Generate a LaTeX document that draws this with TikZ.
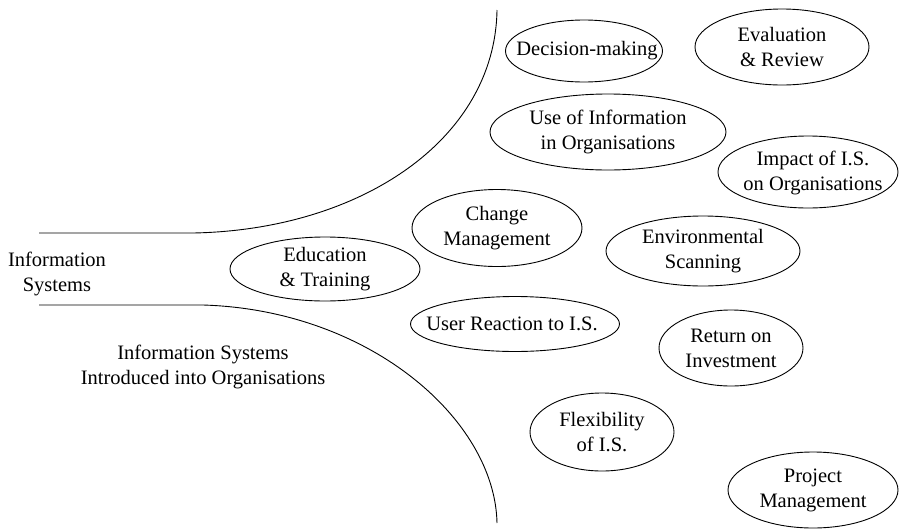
\documentclass[tikz,border=0pt]{standalone}
\usepackage{fontspec}
\setmainfont{Liberation Serif}
\usetikzlibrary{shapes.geometric}
\begin{document}
\begin{tikzpicture}[x=1pt,y=-1pt,
  oval/.style={draw, ellipse, line width=0.9pt, inner sep=0pt},
  lbl/.style={align=center, font=\fontsize{20.5}{25}\selectfont, inner sep=0pt},
  bound/.style={line width=0.9pt}]
\useasboundingbox (0,0) rectangle (900,528);
% boundary curves
\coordinate (u0) at (39,233);
\coordinate (u1) at (193,233);
\coordinate (u2) at (497,10);
\coordinate (l0) at (39,305);
\coordinate (l1) at (203,305);
\coordinate (l2) at (497,523);
\draw[bound] (u0) -- (u1) .. controls (360,230) and (495,140) .. (u2);
\draw[bound] (l0) -- (l1) .. controls (370,310) and (495,420) .. (l2);
% free labels
\node[lbl] (is) at (57,274) {Information\\Systems};
\node[lbl] (isio) at (203,367) {Information Systems\\Introduced into Organisations};
% ellipses
\node[oval, minimum width=157pt, minimum height=62pt] (dm) at (584,51) {};
\node[lbl] (dmt) at (587,51) {Decision-making};
\node[oval, minimum width=174pt, minimum height=76pt] (er) at (782,47) {};
\node[lbl] (ert) at (er) {Evaluation\\\& Review};
\node[oval, minimum width=236pt, minimum height=76pt] (uio) at (608,132) {};
\node[lbl] (uiot) at (uio) {Use of Information\\in Organisations};
\node[oval, minimum width=180pt, minimum height=72pt] (imp) at (808,172) {};
\node[lbl] (impt) at (813,173) {Impact of I.S.\\on Organisations};
\node[oval, minimum width=170pt, minimum height=77pt] (cm) at (497,228) {};
\node[lbl] (cmt) at (cm) {Change\\Management};
\node[oval, minimum width=194pt, minimum height=70pt] (es) at (703,251) {};
\node[lbl] (est) at (es) {Environmental\\Scanning};
\node[oval, minimum width=190pt, minimum height=64pt] (et) at (325,269) {};
\node[lbl] (ett) at (et) {Education\\\& Training};
\node[oval, minimum width=209pt, minimum height=55pt] (ur) at (515,324) {};
\node[lbl] (urt) at (512,324) {User Reaction to I.S.};
\node[oval, minimum width=144pt, minimum height=76pt] (roi) at (731,348) {};
\node[lbl] (roit) at (roi) {Return on\\Investment};
\node[oval, minimum width=144pt, minimum height=78pt] (flex) at (602,432) {};
\node[lbl] (flext) at (flex) {Flexibility\\of I.S.};
\node[oval, minimum width=170pt, minimum height=76pt] (pm) at (813,490) {};
\node[lbl] (pmt) at (pm) {Project\\Management};
\end{tikzpicture}
\end{document}
